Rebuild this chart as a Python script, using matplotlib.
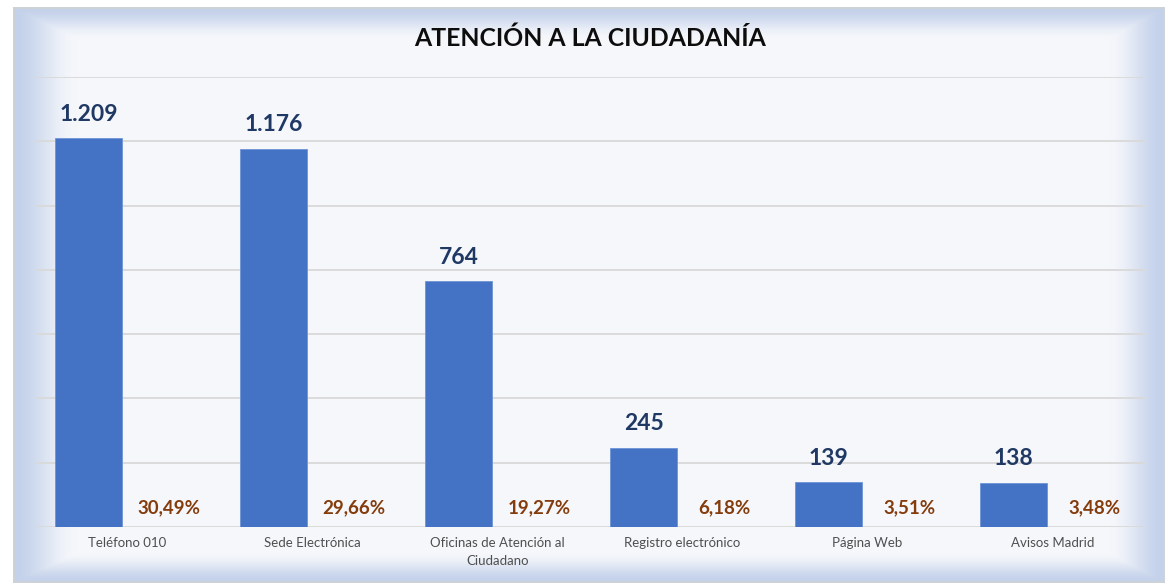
import numpy as np
import matplotlib
matplotlib.use("Agg")
import matplotlib.pyplot as plt
from matplotlib.colors import to_rgb

# chart data
categories = [
    "Teléfono 010",
    "Sede Electrónica",
    "Oficinas de Atención al\nCiudadano",
    "Registro electrónico",
    "Página Web",
    "Avisos Madrid",
]
values = [1209, 1176, 764, 245, 139, 138]
percentages = [30.49, 29.66, 19.27, 6.18, 3.51, 3.48]
y_ticks = [0, 200, 400, 600, 800, 1000, 1200, 1400]

W, H = 1165, 585
plt.rcParams["font.family"] = ["Lato", "DejaVu Sans"]

fig = plt.figure(figsize=(W / 100, H / 100), dpi=100)

# background: framed panel with soft blue edge glow
yy, xx = np.mgrid[0:H, 0:W].astype(float)
left, top, right, bottom = 13, 7, 1164, 582
dl, dt = xx - left, yy - top
dr, db = right - xx, bottom - yy
t = np.clip(np.minimum.reduce([dl / 64, dt / 32, dr / 56, db / 30]), 0, 1)
t = t * t * (3 - 2 * t)
edge = np.array(to_rgb("#c3d1ea"))
inner = np.array(to_rgb("#f5f7fb"))
img = edge + (inner - edge) * t[..., None]
outside = (dl < 0) | (dt < 0) | (dr < 0) | (db < 0)
ring = ~outside & (np.minimum.reduce([dl, dt, dr, db]) < 2)
img[outside] = 1.0
img[ring] = to_rgb("#cdd1d8")

bg = fig.add_axes([0, 0, 1, 1])
bg.imshow(img, aspect="auto", interpolation="nearest")
bg.axis("off")

# main axes
ax = fig.add_axes([35 / W, (H - 527) / H, (1145 - 35) / W, (527 - 77) / H])
ax.patch.set_alpha(0)
x = np.arange(len(categories))
bar_w = 0.36
off = 0.21

ax.bar(x - off, values, width=bar_w, color="#4472c4", edgecolor="#6e93d6",
       linewidth=0.6, zorder=3)
ax.bar(x + off, np.array(percentages) / 100, width=bar_w, color="#ed7d31", zorder=3)

for xi, v in zip(x, values):
    ax.annotate(f"{v:,}".replace(",", "."), (xi - off, v), xytext=(0, 17.5),
                textcoords="offset points", ha="center", va="center",
                fontsize=16.5, fontweight="bold", color="#1f3864")

for xi, p in zip(x, percentages):
    ax.annotate(f"{p:.2f}".replace(".", ",") + "%", (xi + off + 0.015, 0),
                xytext=(0, 14), textcoords="offset points", ha="center",
                va="center", fontsize=13.5, fontweight="bold", color="#843c0c")

ax.set_xlim(-0.5, len(categories) - 0.5)
ax.set_ylim(0, 1400)
ax.set_yticks(y_ticks)
ax.yaxis.grid(True, color="#d9d9d9", linewidth=1.3, zorder=0)
ax.tick_params(axis="y", length=0, labelleft=False)
ax.set_xticks(x)
ax.set_xticklabels(categories, fontsize=9.5, color="#4f4f4f", linespacing=1.6)
ax.tick_params(axis="x", length=0, pad=7)
for s in ax.spines.values():
    s.set_visible(False)

fig.text(590 / W, 1 - 38 / H, "ATENCIÓN A LA CIUDADANÍA", ha="center",
         va="center", fontsize=17.8, fontweight="bold", color="#0d0d0d")

fig.savefig("out.png", dpi=100)
